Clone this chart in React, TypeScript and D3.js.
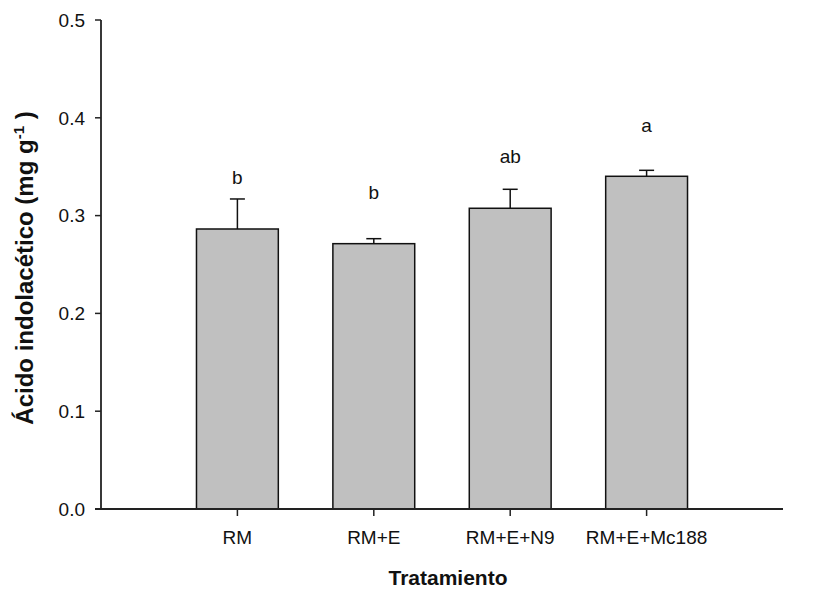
import React from "react";
import * as d3 from "d3";

const categories = ["RM", "RM+E", "RM+E+N9", "RM+E+Mc188"];
const means = [0.2863, 0.2713, 0.3075, 0.3402];
const errors = [0.0307, 0.0051, 0.0194, 0.0061];
const letters = ["b", "b", "ab", "a"];
const letterValues = [0.3323, 0.317, 0.3538, 0.3855];
const yTicks = [0, 0.1, 0.2, 0.3, 0.4, 0.5];

const W = 836;
const H = 590;
const axisX = 101;
const axisRight = 783;
const yTop = 20;
const yBottom = 509;

export default function App() {
  const y = d3.scaleLinear().domain([0, 0.5]).range([yBottom, yTop]);
  const x = d3
    .scalePoint<string>()
    .domain(["_s", ...categories, "_e"])
    .range([axisX, axisRight]);
  const step = x.step();
  const barW = step * 0.6;
  const capW = 15;
  const font = "'Liberation Sans', Arial, sans-serif";
  const axisColor = "#222";

  return (
    <svg
      width={W}
      height={H}
      style={{ position: "absolute", left: 0, top: 0, background: "#fff" }}
      fontFamily={font}
    >
      <rect x={0} y={0} width={W} height={H} fill="#fff" />
      {categories.map((c, i) => {
        const cx = x(c)!;
        const top = y(means[i]);
        const errTop = y(means[i] + errors[i]);
        return (
          <g key={c}>
            <line x1={cx} x2={cx} y1={top} y2={errTop} stroke="#111" strokeWidth={1.5} />
            <line
              x1={cx - capW / 2}
              x2={cx + capW / 2}
              y1={errTop}
              y2={errTop}
              stroke="#111"
              strokeWidth={1.5}
            />
            <rect
              x={cx - barW / 2}
              y={top}
              width={barW}
              height={yBottom - top}
              fill="#c0c0c0"
              stroke="#111"
              strokeWidth={1.5}
            />
            <text
              x={cx}
              y={y(letterValues[i])}
              textAnchor="middle"
              fontSize={19}
              fill="#111"
            >
              {letters[i]}
            </text>
            <line x1={cx} x2={cx} y1={yBottom} y2={yBottom + 7} stroke={axisColor} strokeWidth={1.5} />
            <text x={cx} y={544} textAnchor="middle" fontSize={19} fill="#111">
              {c}
            </text>
          </g>
        );
      })}
      {/* y axis */}
      <line x1={axisX} x2={axisX} y1={yTop} y2={yBottom} stroke={axisColor} strokeWidth={1.8} />
      {yTicks.map((t) => (
        <g key={t}>
          <line x1={axisX - 6} x2={axisX} y1={y(t)} y2={y(t)} stroke={axisColor} strokeWidth={1.5} />
          <text x={85} y={y(t) + 6.8} textAnchor="end" fontSize={19} fill="#111">
            {d3.format(".1f")(t)}
          </text>
        </g>
      ))}
      {/* x axis */}
      <line x1={axisX - 6} x2={axisRight} y1={yBottom} y2={yBottom} stroke={axisColor} strokeWidth={1.8} />
      <text x={448} y={585} textAnchor="middle" fontSize={21} fontWeight="bold" fill="#111">
        Tratamiento
      </text>
      <text
        transform={`translate(33, 268) rotate(-90)`}
        textAnchor="middle"
        fontSize={24}
        fontWeight="bold"
        fill="#111"
      >
        Ácido indolacético (mg g
        <tspan dy={-9} fontSize={15}>-1</tspan>
        <tspan dy={9}> )</tspan>
      </text>
    </svg>
  );
}
